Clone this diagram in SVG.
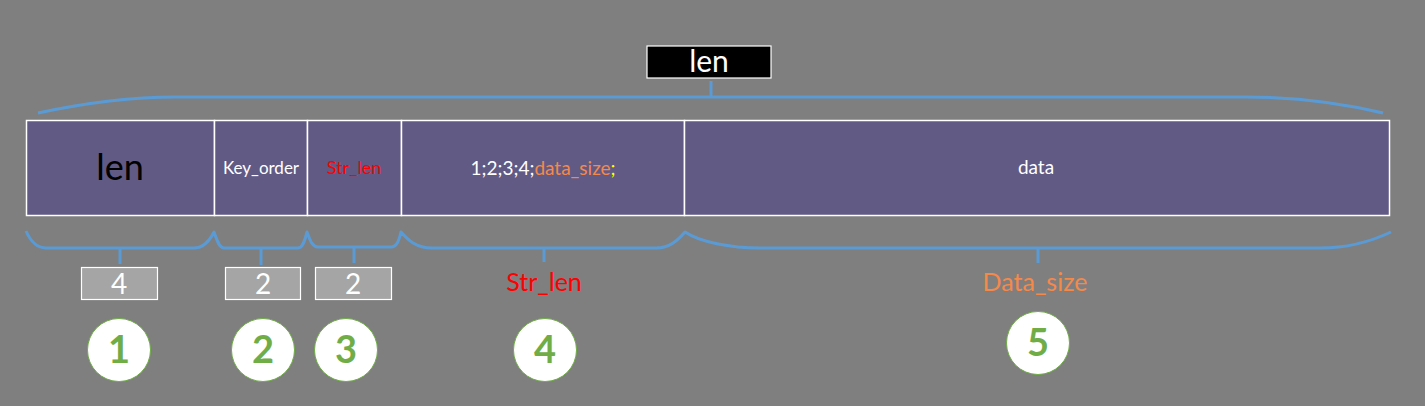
<svg xmlns="http://www.w3.org/2000/svg" width="1425" height="406" viewBox="0 0 1425 406">
<style>
.cell{fill:#605a85;stroke:#ffffff;stroke-width:1.5}
.br{fill:none;stroke:#5b9bd5;stroke-width:3;stroke-linejoin:round}
.t{font-family:Lato,"Liberation Sans",sans-serif;text-anchor:middle}
.box{fill:#a5a5a5;stroke:#ffffff;stroke-width:1.2}
.circ{fill:#ffffff;stroke:#70ad47;stroke-width:1}
.num{font-family:Lato,"Liberation Sans",sans-serif;text-anchor:middle;font-weight:bold;font-size:38px;fill:#70ad47}
</style>
<rect width="1425" height="406" fill="#7f7f7f"/>
<g id="connectors">
<path class="br" d="M38,113 C80,104 130,97 175,97 L1245,97 C1295,97 1345,104 1383,113"/>
<path class="br" d="M711,97 L711,81"/>
<path class="br" d="M26,231 C30,240 36,248 46,248 L194,248 C204,248 210,240 214,232 C217,240 219,248 224,248 L298,248 C303,248 305,240 307,232 C310,240 312,247 318,247 L391,247 C397,247 399,240 401,232 C408,240 416,248 432,248 L656,248 C670,248 678,240 685,232 C700,242 730,248 760,248 L1320,248 C1345,248 1370,242 1391,232"/>
<path class="br" d="M120,248 V264 M261,248 V265 M354,247 V263 M544,248 V262 M1038,248 V263"/>
</g>
<g id="top-label">
<rect x="647" y="46" width="124" height="32" fill="#000000" stroke="#ffffff" stroke-width="1.2"/>
<text class="t" x="709" y="72" font-size="30" fill="#ffffff">len</text>
</g>
<g id="cell-len">
<rect class="cell" x="26.5" y="120.5" width="188" height="95"/>
<text class="t" x="120" y="180" font-size="36" fill="#000000">len</text>
</g>
<g id="cell-key">
<rect class="cell" x="214.5" y="120.5" width="93" height="95"/>
<text class="t" x="261" y="174" font-size="17" fill="#ffffff">Key_order</text>
</g>
<g id="cell-strlen">
<rect class="cell" x="307.5" y="120.5" width="94" height="95"/>
<text class="t" x="354" y="174" font-size="18" fill="#ff0000">Str_len</text>
</g>
<g id="cell-str">
<rect class="cell" x="401.5" y="120.5" width="283" height="95"/>
<text class="t" x="543" y="175" font-size="19" fill="#ffffff">1;2;3;4;<tspan fill="#f4894b">data_size</tspan><tspan fill="#ffff00">;</tspan></text>
</g>
<g id="cell-data">
<rect class="cell" x="684.5" y="120.5" width="705" height="95"/>
<text class="t" x="1036" y="174" font-size="19" fill="#ffffff">data</text>
</g>
<g id="box1"><rect class="box" x="81.5" y="267.5" width="76" height="32"/><text class="t" x="119" y="294" font-size="28" fill="#ffffff">4</text></g>
<g id="box2"><rect class="box" x="225.5" y="267.5" width="75" height="32"/><text class="t" x="263" y="294" font-size="28" fill="#ffffff">2</text></g>
<g id="box3"><rect class="box" x="315.5" y="267.5" width="76" height="32"/><text class="t" x="353" y="294" font-size="28" fill="#ffffff">2</text></g>
<g id="label-strlen"><text class="t" x="544" y="291" font-size="25" fill="#ff0000">Str_len</text></g>
<g id="label-datasize"><text class="t" x="1035" y="291" font-size="25" fill="#f4894b">Data_size</text></g>
<g id="c1"><circle class="circ" cx="119" cy="350" r="31.5"/><text class="num" x="119" y="363">1</text></g>
<g id="c2"><circle class="circ" cx="263" cy="350" r="31.5"/><text class="num" x="263" y="363">2</text></g>
<g id="c3"><circle class="circ" cx="346" cy="350" r="31.5"/><text class="num" x="346" y="363">3</text></g>
<g id="c4"><circle class="circ" cx="545" cy="350" r="31.5"/><text class="num" x="545" y="363">4</text></g>
<g id="c5"><circle class="circ" cx="1038" cy="343" r="31.5"/><text class="num" x="1038" y="356">5</text></g>
</svg>
